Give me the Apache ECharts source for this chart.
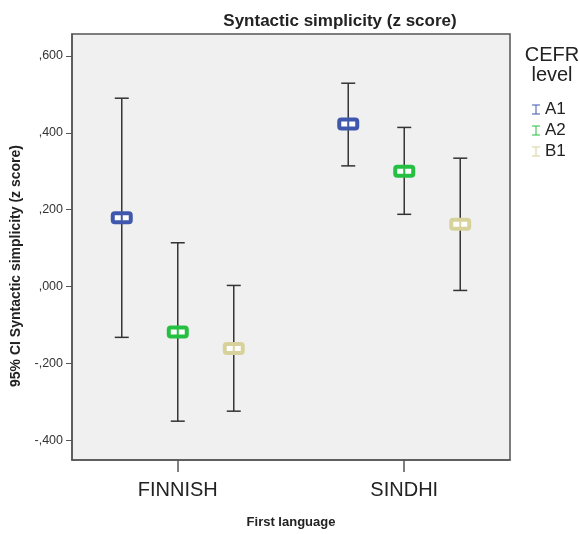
<!DOCTYPE html>
<html>
<head>
<meta charset="utf-8">
<script src="https://cdn.jsdelivr.net/npm/echarts@6/dist/echarts.min.js"></script>
<style>
  html, body { margin: 0; padding: 0; background: #fff; }
  #chart { width: 579px; height: 534px; }
</style>
</head>
<body>
<div id="chart"></div>
<script>
  // First language categories and CEFR levels
  var languages = ['FINNISH', 'SINDHI'];
  var levels = ['A1', 'A2', 'B1'];
  var levelColors = ['#3f58ad', '#25bf41', '#d7d29c'];

  // mean and 95% CI per level (FINNISH, SINDHI)
  var meanA1 = [0.179, 0.423];
  var lowA1  = [-0.132, 0.314];
  var highA1 = [0.490, 0.529];

  var meanA2 = [-0.118, 0.300];
  var lowA2  = [-0.350, 0.188];
  var highA2 = [0.114, 0.414];

  var meanB1 = [-0.161, 0.162];
  var lowB1  = [-0.324, -0.010];
  var highB1 = [0.003, 0.334];

  var means = [meanA1, meanA2, meanB1];
  var lows = [lowA1, lowA2, lowB1];
  var highs = [highA1, highA2, highB1];

  var dom = document.getElementById('chart');
  var myChart = echarts.init(dom);

  function fmt(v) {
    return v.toFixed(3).replace('0.', ',');
  }

  function renderErr(params, api) {
    var off = (params.seriesIndex - 1) * 56;
    var pm = api.coord([api.value(0), api.value(1)]);
    var pl = api.coord([api.value(0), api.value(2)]);
    var ph = api.coord([api.value(0), api.value(3)]);
    var x = pm[0] + off;
    var color = api.visual('color');
    var lineStyle = { stroke: '#333', lineWidth: 1.5 };
    return {
      type: 'group',
      children: [
        { type: 'line', shape: { x1: x, y1: ph[1], x2: x, y2: pl[1] }, style: lineStyle },
        { type: 'line', shape: { x1: x - 7, y1: ph[1], x2: x + 7, y2: ph[1] }, style: lineStyle },
        { type: 'line', shape: { x1: x - 7, y1: pl[1], x2: x + 7, y2: pl[1] }, style: lineStyle },
        { type: 'rect', shape: { x: x - 9, y: pm[1] - 4.5, width: 18, height: 9, r: 2 },
          style: { fill: '#fff', stroke: color, lineWidth: 4 } },
        { type: 'line', shape: { x1: x, y1: pm[1] - 3, x2: x, y2: pm[1] + 3 },
          style: { stroke: color, lineWidth: 2 } }
      ]
    };
  }

  var series = levels.map(function (lv, k) {
    return {
      name: lv,
      type: 'custom',
      renderItem: renderErr,
      itemStyle: { color: levelColors[k] },
      data: languages.map(function (l, i) {
        return [i, means[k][i], lows[k][i], highs[k][i]];
      }),
      z: 3
    };
  });

  var option = {
    animation: false,
    backgroundColor: '#fff',
    textStyle: { fontFamily: 'Liberation Sans, Arial, sans-serif' },
    title: [
      {
        text: 'Syntactic simplicity (z score)',
        left: 335, top: 8, textAlign: 'center',
        textStyle: { fontSize: 17, fontWeight: 'bold', color: '#222' }
      },
      {
        text: 'CEFR\nlevel',
        left: 547, top: 40, textAlign: 'center',
        textStyle: { fontSize: 20, fontWeight: 'normal', color: '#222', lineHeight: 20 }
      }
    ],
    legend: {
      orient: 'vertical',
      left: 527, top: 96,
      itemWidth: 8, itemHeight: 11, itemGap: 4,
      icon: 'path://M0,0 H8 V1 H4.5 V9 H8 V10 H0 V9 H3.5 V1 H0 Z',
      textStyle: { fontSize: 17, color: '#222' },
      data: levels
    },
    grid: {
      left: 72, top: 34, right: 69, bottom: 70,
      show: true, backgroundColor: '#f0f0f0', borderColor: '#555', borderWidth: 1.5
    },
    xAxis: {
      type: 'value',
      min: -0.467, max: 1.467,
      name: 'First language',
      nameLocation: 'middle', nameGap: 56,
      nameTextStyle: { fontSize: 13, fontWeight: 'bold', color: '#222' },
      axisLine: { show: true, onZero: false, lineStyle: { color: '#555', width: 1.5 } },
      axisTick: { show: true, length: 12, customValues: [0, 1], lineStyle: { color: '#555', width: 1.5 } },
      axisLabel: {
        customValues: [0, 1], margin: 20, fontSize: 20, color: '#222',
        formatter: function (v) { return languages[Math.round(v)]; }
      },
      splitLine: { show: false }
    },
    yAxis: {
      type: 'value',
      min: -0.451, max: 0.657, splitNumber: 5,
      name: '95% CI Syntactic simplicity (z score)',
      nameLocation: 'middle', nameGap: 48,
      nameTextStyle: { fontSize: 14, fontWeight: 'bold', color: '#222', padding: [0, 38, 0, 0] },
      axisLine: { show: true, onZero: false, lineStyle: { color: '#555', width: 1.5 } },
      axisTick: { show: true, length: 6, lineStyle: { color: '#555' } },
      axisLabel: {
        showMinLabel: false, showMaxLabel: false,
        fontSize: 12.5, color: '#333', margin: 9,
        formatter: fmt
      },
      splitLine: { show: false }
    },
    series: series
  };

  if (option && typeof option === 'object') {
    myChart.setOption(option, true);
  }
</script>
</body>
</html>
